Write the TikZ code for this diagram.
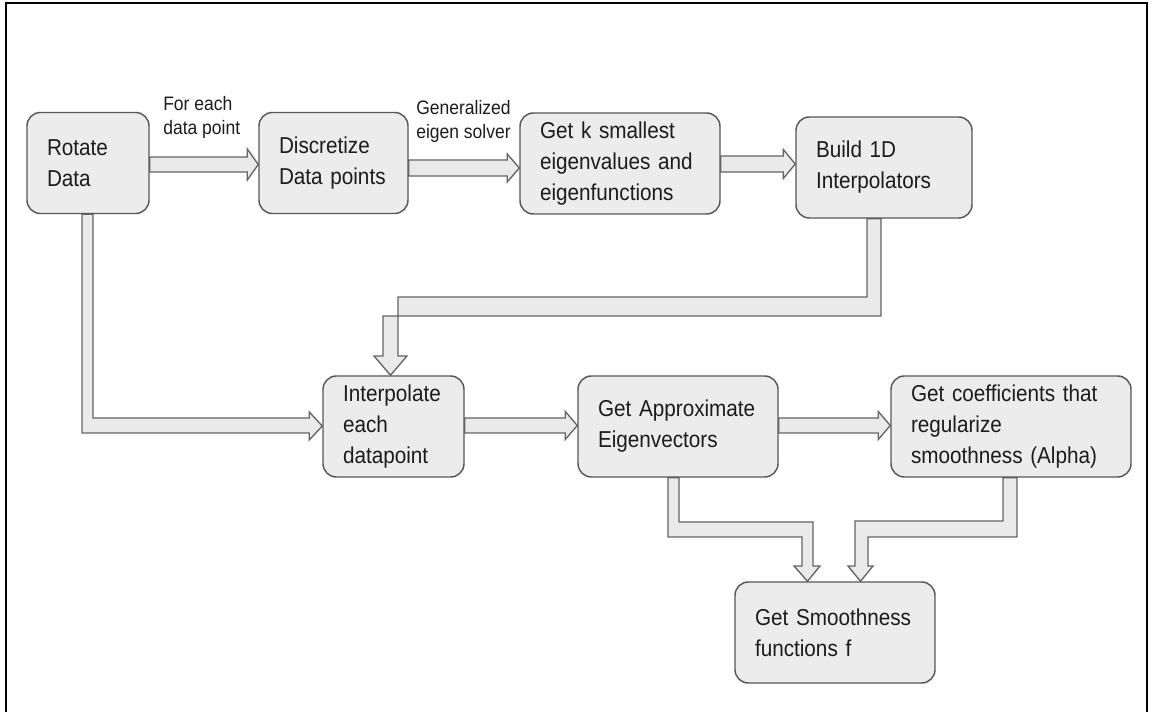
\documentclass[tikz,border=0pt]{standalone}
\usepackage{fontspec}
\setmainfont{Liberation Sans}[FakeStretch=0.9]
\usetikzlibrary{calc,backgrounds}
\definecolor{boxfill}{RGB}{236,236,236}
\definecolor{boxline}{RGB}{88,88,88}
\definecolor{arrfill}{RGB}{234,234,234}
\definecolor{arrline}{RGB}{100,100,100}
\definecolor{txt}{RGB}{28,28,28}
\newcommand\boxfont{\fontsize{17.25}{23.25}\selectfont}
\newcommand\lblfont{\fontsize{14.6}{18}\selectfont}
% rightward block arrow: from, to, y centre, shaft half width, head half width, head length (px)
\newcommand\blockR[6]{%
  \pgfmathsetmacro\bya{#3-#4}\pgfmathsetmacro\byb{#3+#4}%
  \pgfmathsetmacro\byc{#3-#5}\pgfmathsetmacro\byd{#3+#5}%
  \filldraw[conn] (#1.east |- 0,\bya) -- ($(#2.west |- 0,\bya)+(-#6,0)$)
    -- ($(#2.west |- 0,\byc)+(-#6,0)$) -- (#2.west |- 0,#3)
    -- ($(#2.west |- 0,\byd)+(-#6,0)$) -- ($(#2.west |- 0,\byb)+(-#6,0)$)
    -- (#1.east |- 0,\byb) -- cycle;}
\begin{document}
\begin{tikzpicture}[x=0.75pt,y=-0.75pt,
  box/.style={draw=boxline, fill=boxfill, line width=1.1pt, rounded corners=10pt,
    align=left, inner xsep=15pt, inner ysep=2pt, minimum height=75.75pt,
    font=\boxfont, text=txt},
  lbl/.style={inner sep=0pt, anchor=north west, align=left, font=\lblfont, text=txt},
  conn/.style={draw=arrline, fill=arrfill, line width=1pt, line join=miter}]
\useasboundingbox (0,0) rectangle (1153,712);
\draw[line width=1.6pt, black] (6,713) -- (6,3) -- (1147,3) -- (1147,713);

% boxes
\node[box, text width=61.5pt] (rot) at (88,163) {Rotate\\Data};
\node[box, text width=81.75pt] (dis) at (333.5,163) {Discretize\\Data points};
\node[box, text width=120pt] (getk) at (620,163.5) {Get k smallest\\eigenvalues and\\eigenfunctions};
\node[box, text width=102pt] (build) at (884,167.5) {Build 1D\\Interpolators};
\node[box, text width=75.75pt] (interp) at (393.5,426.5) {Interpolate\\each\\datapoint};
\node[box, text width=120pt] (approx) at (678,426.5) {Get Approximate\\Eigenvectors};
\node[box, text width=150pt] (coeff) at (1011,426.5) {Get coefficients that\\regularize\\smoothness (Alpha)};
\node[box, text width=120pt] (smooth) at (835,632.5) {Get Smoothness\\functions f};

% labels
\node[lbl] (l1) at (163,96) {For each\\data point};
\node[lbl] (l2) at (416,100) {Generalized\\eigen solver};

% connectors
\begin{scope}[on background layer]
\blockR{rot}{dis}{164.5}{7.5}{15.5}{11}
\blockR{dis}{getk}{168}{8}{14}{12}
\blockR{getk}{build}{164}{8}{14.5}{12}
\blockR{interp}{approx}{425.5}{7.5}{14}{12}
\blockR{approx}{coeff}{425.5}{7.5}{14}{12}

\filldraw[conn] (82,0 |- rot.south) -- (82,433)
  -- ($(interp.west |- 0,433)+(-13,0)$) -- ($(interp.west |- 0,440)+(-13,0)$)
  -- (interp.west |- 0,426)
  -- ($(interp.west |- 0,412)+(-13,0)$) -- ($(interp.west |- 0,418)+(-13,0)$)
  -- (93,418) -- (93,0 |- rot.south) -- cycle;

\filldraw[conn] (867,0 |- build.south) -- (867,297) -- (398,297) -- (398,356)
  -- (407,356) -- (390.5,0 |- interp.north) -- (374,356) -- (383,356)
  -- (383,316) -- (881,316) -- (881,0 |- build.south) -- cycle;

\filldraw[conn] (668,0 |- approx.south) -- (668,537) -- (802,537) -- (802,566)
  -- (794,566) -- (807.5,0 |- smooth.north) -- (820,566) -- (813,566)
  -- (813,522) -- (679,522) -- (679,0 |- approx.south) -- cycle;

\filldraw[conn] (1017,0 |- coeff.south) -- (1017,537) -- (868,537) -- (868,566)
  -- (873,566) -- (860.5,0 |- smooth.north) -- (848,566) -- (855,566)
  -- (855,521) -- (1003,521) -- (1003,0 |- coeff.south) -- cycle;
\end{scope}
\end{tikzpicture}
\end{document}
